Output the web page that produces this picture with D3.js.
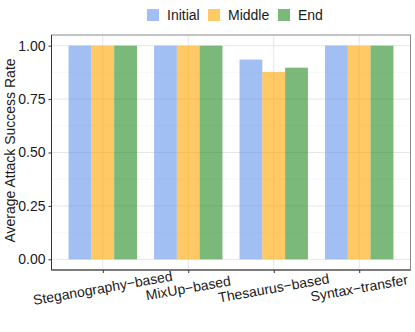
<!DOCTYPE html>
<html>
<head>
<meta charset="utf-8">
<script src="https://cdn.jsdelivr.net/npm/d3@7"></script>
<style>
  body { margin: 0; background: #fff; }
  text { font-family: "Liberation Sans", Arial, sans-serif; }
</style>
</head>
<body>
<svg id="chart" width="415" height="332"></svg>
<script>
var categories = ["Steganography\u2212based", "MixUp\u2212based", "Thesaurus\u2212based", "Syntax\u2212transfer"];
var seriesNames = ["Initial", "Middle", "End"];
var initialVals = [1.00, 1.00, 0.935, 1.00];
var middleVals = [1.00, 1.00, 0.877, 1.00];
var endVals = [1.00, 1.00, 0.897, 1.00];
var yTicks = [0, 0.25, 0.5, 0.75, 1.0];
var yMinor = [0.125, 0.375, 0.625, 0.875];
var colors = ["#6495ED", "#FFA500", "#228B22"];

(function () {
  var seriesVals = [initialVals, middleVals, endVals];
  var svg = d3.select("#chart");
  var pLeft = 51.5, pRight = 410.5, pTop = 35, pBottom = 270;

  var y = d3.scaleLinear().domain([-0.05, 1.05]).range([pBottom, pTop]);
  var x = d3.scalePoint().domain(categories).range([pLeft, pRight]).padding(0.6);
  var step = x.step();
  var xs = d3.scaleBand().domain(seriesNames).range([-step * 0.4, step * 0.4]);

  // gridlines
  svg.append("g").selectAll("line").data(yMinor).enter().append("line")
    .attr("x1", pLeft).attr("x2", pRight)
    .attr("y1", function (d) { return y(d); }).attr("y2", function (d) { return y(d); })
    .attr("stroke", "#f3f3f3").attr("stroke-width", 0.6);
  svg.append("g").selectAll("line").data(yTicks).enter().append("line")
    .attr("x1", pLeft).attr("x2", pRight)
    .attr("y1", function (d) { return y(d); }).attr("y2", function (d) { return y(d); })
    .attr("stroke", "#e6e6e6").attr("stroke-width", 1);
  svg.append("g").selectAll("line").data(categories).enter().append("line")
    .attr("y1", pTop).attr("y2", pBottom)
    .attr("x1", function (d) { return x(d); }).attr("x2", function (d) { return x(d); })
    .attr("stroke", "#e6e6e6").attr("stroke-width", 1);

  // bars
  seriesNames.forEach(function (s, si) {
    svg.append("g").selectAll("rect").data(categories).enter().append("rect")
      .attr("x", function (d) { return x(d) + xs(s); })
      .attr("width", xs.bandwidth())
      .attr("y", function (d, i) { return y(seriesVals[si][i]); })
      .attr("height", function (d, i) { return y(0) - y(seriesVals[si][i]); })
      .attr("fill", colors[si]).attr("fill-opacity", 0.6);
  });

  // panel border
  svg.append("rect").attr("x", pLeft).attr("y", pTop)
    .attr("width", pRight - pLeft).attr("height", pBottom - pTop)
    .attr("fill", "none").attr("stroke", "#8a8a8a").attr("stroke-width", 1);
  svg.append("line").attr("x1", pLeft).attr("x2", pLeft).attr("y1", pTop).attr("y2", pBottom)
    .attr("stroke", "#333").attr("stroke-width", 1);
  svg.append("line").attr("x1", pLeft).attr("x2", pRight).attr("y1", pBottom).attr("y2", pBottom)
    .attr("stroke", "#333").attr("stroke-width", 1);

  // y axis
  var yAxis = svg.append("g").attr("transform", "translate(" + pLeft + ",0)")
    .call(d3.axisLeft(y).tickValues(yTicks).tickFormat(d3.format(".2f")).tickSize(3).tickPadding(3));
  yAxis.select(".domain").remove();
  yAxis.selectAll("line").attr("stroke", "#333");
  yAxis.selectAll("text").attr("font-size", 14).attr("fill", "#1a1a1a")
    .style("font-family", "Liberation Sans, Arial, sans-serif");

  // x axis
  var xAxis = svg.append("g").attr("transform", "translate(0," + pBottom + ")")
    .call(d3.axisBottom(x).tickSize(3).tickFormat(""));
  xAxis.select(".domain").remove();
  xAxis.selectAll("line").attr("stroke", "#333");
  svg.append("g").selectAll("text").data(categories).enter().append("text")
    .attr("transform", function (d) { return "translate(" + x(d) + "," + (pBottom + 18) + ") rotate(-10)"; })
    .attr("text-anchor", "middle").attr("dy", "0.35em")
    .attr("font-size", 14).attr("fill", "#1a1a1a")
    .text(function (d) { return d; });

  // y title
  svg.append("text").attr("transform", "translate(15," + ((pTop + pBottom) / 2 - 2) + ") rotate(-90)")
    .attr("text-anchor", "middle")
    .attr("font-size", 14).attr("fill", "#1a1a1a")
    .text("Average Attack Success Rate");

  // legend
  var legendX = [147, 208, 278];
  var legend = svg.append("g");
  seriesNames.forEach(function (s, si) {
    legend.append("rect").attr("x", legendX[si]).attr("y", 9).attr("width", 12).attr("height", 12)
      .attr("fill", colors[si]).attr("fill-opacity", 0.6);
    legend.append("text").attr("x", legendX[si] + 20).attr("y", 15).attr("dy", "0.35em")
      .attr("font-size", 14).attr("fill", "#1a1a1a").text(s);
  });
})();
</script>
</body>
</html>
